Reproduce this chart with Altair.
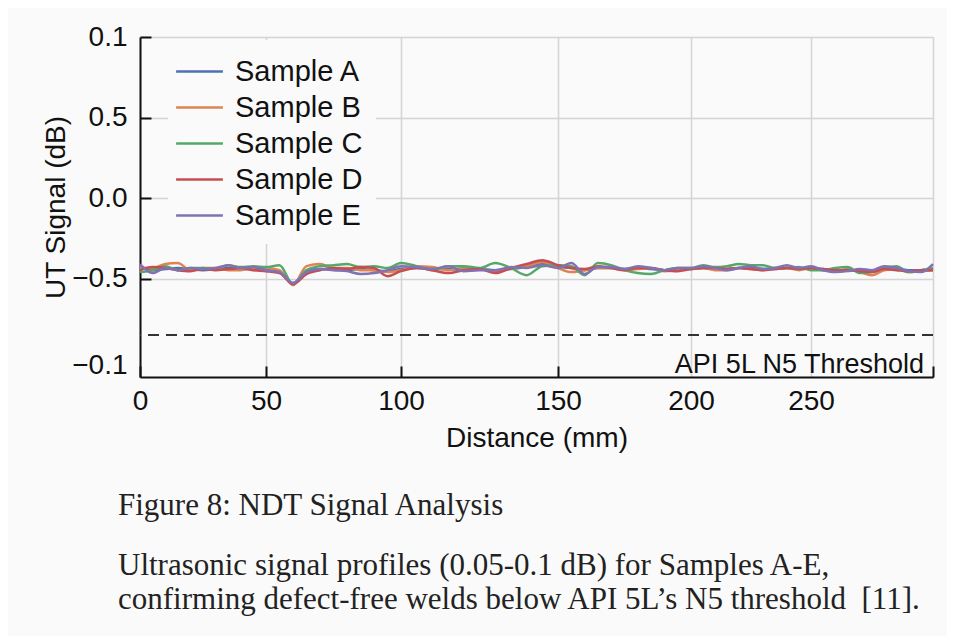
import json
import altair as alt
import pandas as pd

# ---------------- data ----------------
distance_mm = list(range(0, 301, 5))
samples = ["Sample A", "Sample B", "Sample C", "Sample D", "Sample E"]
colors = ["#4C72B0", "#DD8452", "#55A868", "#C44E52", "#8172B3"]

sample_a = [-0.422, -0.447, -0.440, -0.434, -0.440, -0.447, -0.440, -0.434, -0.440, -0.440,
            -0.447, -0.459, -0.527, -0.453, -0.440, -0.440, -0.447, -0.440, -0.447, -0.453,
            -0.440, -0.434, -0.440, -0.440, -0.447, -0.440, -0.447, -0.440, -0.428, -0.409,
            -0.428, -0.434, -0.447, -0.434, -0.434, -0.440, -0.434, -0.440, -0.447, -0.440,
            -0.440, -0.434, -0.440, -0.440, -0.434, -0.434, -0.440, -0.440, -0.434, -0.440,
            -0.434, -0.440, -0.447, -0.447, -0.447, -0.453, -0.440, -0.440, -0.447, -0.447,
            -0.440]
sample_b = [-0.434, -0.434, -0.409, -0.403, -0.447, -0.434, -0.434, -0.447, -0.447, -0.434,
            -0.434, -0.447, -0.540, -0.422, -0.409, -0.434, -0.434, -0.447, -0.447, -0.459,
            -0.447, -0.422, -0.428, -0.447, -0.434, -0.440, -0.453, -0.434, -0.422, -0.397,
            -0.434, -0.459, -0.447, -0.434, -0.434, -0.447, -0.440, -0.434, -0.453, -0.447,
            -0.440, -0.434, -0.447, -0.447, -0.434, -0.440, -0.447, -0.434, -0.434, -0.447,
            -0.434, -0.447, -0.453, -0.440, -0.459, -0.478, -0.447, -0.440, -0.459, -0.453,
            -0.447]
sample_c = [-0.459, -0.447, -0.422, -0.447, -0.434, -0.434, -0.440, -0.416, -0.428, -0.422,
            -0.428, -0.416, -0.534, -0.447, -0.422, -0.416, -0.409, -0.428, -0.422, -0.434,
            -0.403, -0.422, -0.447, -0.422, -0.422, -0.434, -0.403, -0.434, -0.478, -0.422,
            -0.416, -0.422, -0.478, -0.403, -0.416, -0.447, -0.465, -0.471, -0.447, -0.434,
            -0.434, -0.416, -0.428, -0.422, -0.409, -0.416, -0.416, -0.434, -0.434, -0.428,
            -0.447, -0.447, -0.434, -0.428, -0.465, -0.459, -0.434, -0.422, -0.459, -0.447,
            -0.434]
sample_d = [-0.447, -0.428, -0.434, -0.447, -0.453, -0.440, -0.447, -0.440, -0.434, -0.447,
            -0.453, -0.465, -0.534, -0.471, -0.447, -0.434, -0.440, -0.428, -0.434, -0.484,
            -0.453, -0.434, -0.447, -0.465, -0.447, -0.440, -0.465, -0.434, -0.409, -0.385,
            -0.416, -0.434, -0.440, -0.422, -0.434, -0.447, -0.434, -0.434, -0.447, -0.453,
            -0.440, -0.434, -0.434, -0.440, -0.434, -0.440, -0.447, -0.440, -0.434, -0.440,
            -0.434, -0.440, -0.447, -0.447, -0.453, -0.459, -0.440, -0.447, -0.453, -0.447,
            -0.447]
sample_e = [-0.409, -0.465, -0.434, -0.447, -0.434, -0.440, -0.434, -0.416, -0.434, -0.428,
            -0.447, -0.459, -0.527, -0.459, -0.440, -0.447, -0.453, -0.471, -0.465, -0.447,
            -0.422, -0.428, -0.440, -0.422, -0.453, -0.447, -0.447, -0.428, -0.434, -0.416,
            -0.434, -0.403, -0.471, -0.428, -0.428, -0.440, -0.422, -0.434, -0.447, -0.434,
            -0.434, -0.422, -0.434, -0.447, -0.434, -0.422, -0.440, -0.434, -0.416, -0.434,
            -0.422, -0.447, -0.459, -0.453, -0.440, -0.447, -0.422, -0.434, -0.453, -0.459,
            -0.409]
series = [sample_a, sample_b, sample_c, sample_d, sample_e]
for s in series:
    assert len(s) == len(distance_mm), len(s)

# axis ticks / labels (the printed y labels are kept as printed)
y_tick_values = [1.0, 0.5, 0.0, -0.5, -1.036]
y_tick_labels = ["0.1", "0.5", "0.0", "\u22120.5", "\u22120.1"]
y_domain = [-1.11, 1.0]
x_tick_values = [0, 50, 100, 150, 200, 250, 300]
x_tick_labels = ["0", "50", "100", "150", "200", "250", ""]
x_range_stops = [0, 126, 261, 418, 551, 671, 793]   # uneven spacing of the printed axis

threshold_value = [-0.85]
threshold_label = ["API 5L N5 Threshold"]
threshold_label_y = [-1.036]

caption_title = "Figure 8: NDT Signal Analysis"
caption_lines = ["Ultrasonic signal profiles (0.05-0.1 dB) for Samples A-E,",
                 "confirming defect-free welds below API 5L\u2019s N5 threshold\u00a0 [11]."]

# ---------------- build ----------------
rows = []
for name, vals in zip(samples, series):
    for d, v in zip(distance_mm, vals):
        rows.append({"distance": d, "signal": v, "sample": name})
df = pd.DataFrame(rows)

thr_df = pd.DataFrame({"y": threshold_value})
lbl_df = pd.DataFrame({"x": [x_tick_values[-1]], "y": threshold_label_y, "label": threshold_label})

SANS = "Liberation Sans"
INK = "#111111"
GRID = "#d4d4d4"
BG = "#fafafa"

y_label_expr = "%s[indexof(%s, datum.value)]" % (
    json.dumps(y_tick_labels, ensure_ascii=False), json.dumps(y_tick_values))
x_label_expr = "%s[indexof(%s, datum.value)]" % (
    json.dumps(x_tick_labels), json.dumps(x_tick_values))

x_scale = alt.Scale(domain=x_tick_values, range=x_range_stops)
y_scale = alt.Scale(domain=y_domain, nice=False, zero=False)

x_axis = alt.Axis(
    values=x_tick_values, labelExpr=x_label_expr, title="Distance (mm)",
    grid=True, gridColor=GRID, gridWidth=1.5,
    tickSize={"expr": "-11"}, tickWidth=2, tickColor=INK,
    tickOpacity={"condition": {"test": "datum.value <= 150 || datum.value >= 300", "value": 1}, "value": 0},
    domainColor=INK, domainWidth=2,
    labelFont=SANS, labelFontSize=28, labelColor=INK, labelPadding=21,
    labelFlush=False,
    titleFont=SANS, titleFontSize=28, titleFontWeight="normal", titleColor=INK, titlePadding=9,
)
y_axis = alt.Axis(
    values=y_tick_values, labelExpr=y_label_expr, title="UT Signal (dB)",
    grid=True, gridColor=GRID, gridWidth=1.5,
    gridOpacity={"condition": {"test": "datum.value > -1", "value": 1}, "value": 0},
    tickSize={"expr": "-11"}, tickWidth=2, tickColor=INK,
    tickOpacity={"condition": {"test": "datum.value > -1", "value": 1}, "value": 0},
    domainColor=INK, domainWidth=2,
    labelFont=SANS, labelFontSize=28, labelColor=INK, labelPadding=24,
    labelFlush=False,
    titleFont=SANS, titleFontSize=28, titleFontWeight="normal", titleColor=INK, titlePadding=1,
)

lines = alt.Chart(df).mark_line(strokeWidth=2.5, interpolate="monotone").encode(
    x=alt.X("distance:Q", scale=x_scale, axis=x_axis),
    y=alt.Y("signal:Q", scale=y_scale, axis=y_axis),
    color=alt.Color(
        "sample:N",
        scale=alt.Scale(domain=samples, range=colors),
        legend=alt.Legend(
            title=None, orient="none", legendX=28, legendY=3,
            padding=12, fillColor=BG, strokeColor=BG,
            symbolType="M-1.3,0H1.3", symbolSize=1296, symbolStrokeWidth=2.5,
            labelFont=SANS, labelFontSize=29, labelColor=INK, labelOffset=16,
            rowPadding=1,
        ),
    ),
    order=alt.Order("distance:Q"),
)

thr = alt.Chart(thr_df).mark_rule(color="#333333", strokeWidth=2, strokeDash=[11, 7]).encode(
    y=alt.Y("y:Q", scale=y_scale)
)

lbl = alt.Chart(lbl_df).mark_text(
    align="right", baseline="middle", dx=-9, font=SANS, fontSize=27, color=INK
).encode(
    x=alt.X("x:Q", scale=x_scale), y=alt.Y("y:Q", scale=y_scale), text="label:N"
)

chart = alt.layer(thr, lines, lbl).properties(
    width=793, height=340,
    padding={"left": 132, "top": 29, "right": 14, "bottom": 259},
    autosize=alt.AutoSizeParams(type="none"),
    background=BG,
    title=alt.TitleParams(
        text=caption_title, subtitle=caption_lines,
        orient="bottom", anchor="start", frame="group", dx=-22, offset=39,
        font="Liberation Serif", fontSize=31, fontWeight="normal", color="#222222",
        subtitleFont="Liberation Serif", subtitleFontSize=31, subtitleColor="#222222",
        subtitleLineHeight=34, subtitlePadding=29,
    ),
).configure_view(stroke=None)

chart.save("out.html", embed_options={"renderer": "svg", "actions": False})
